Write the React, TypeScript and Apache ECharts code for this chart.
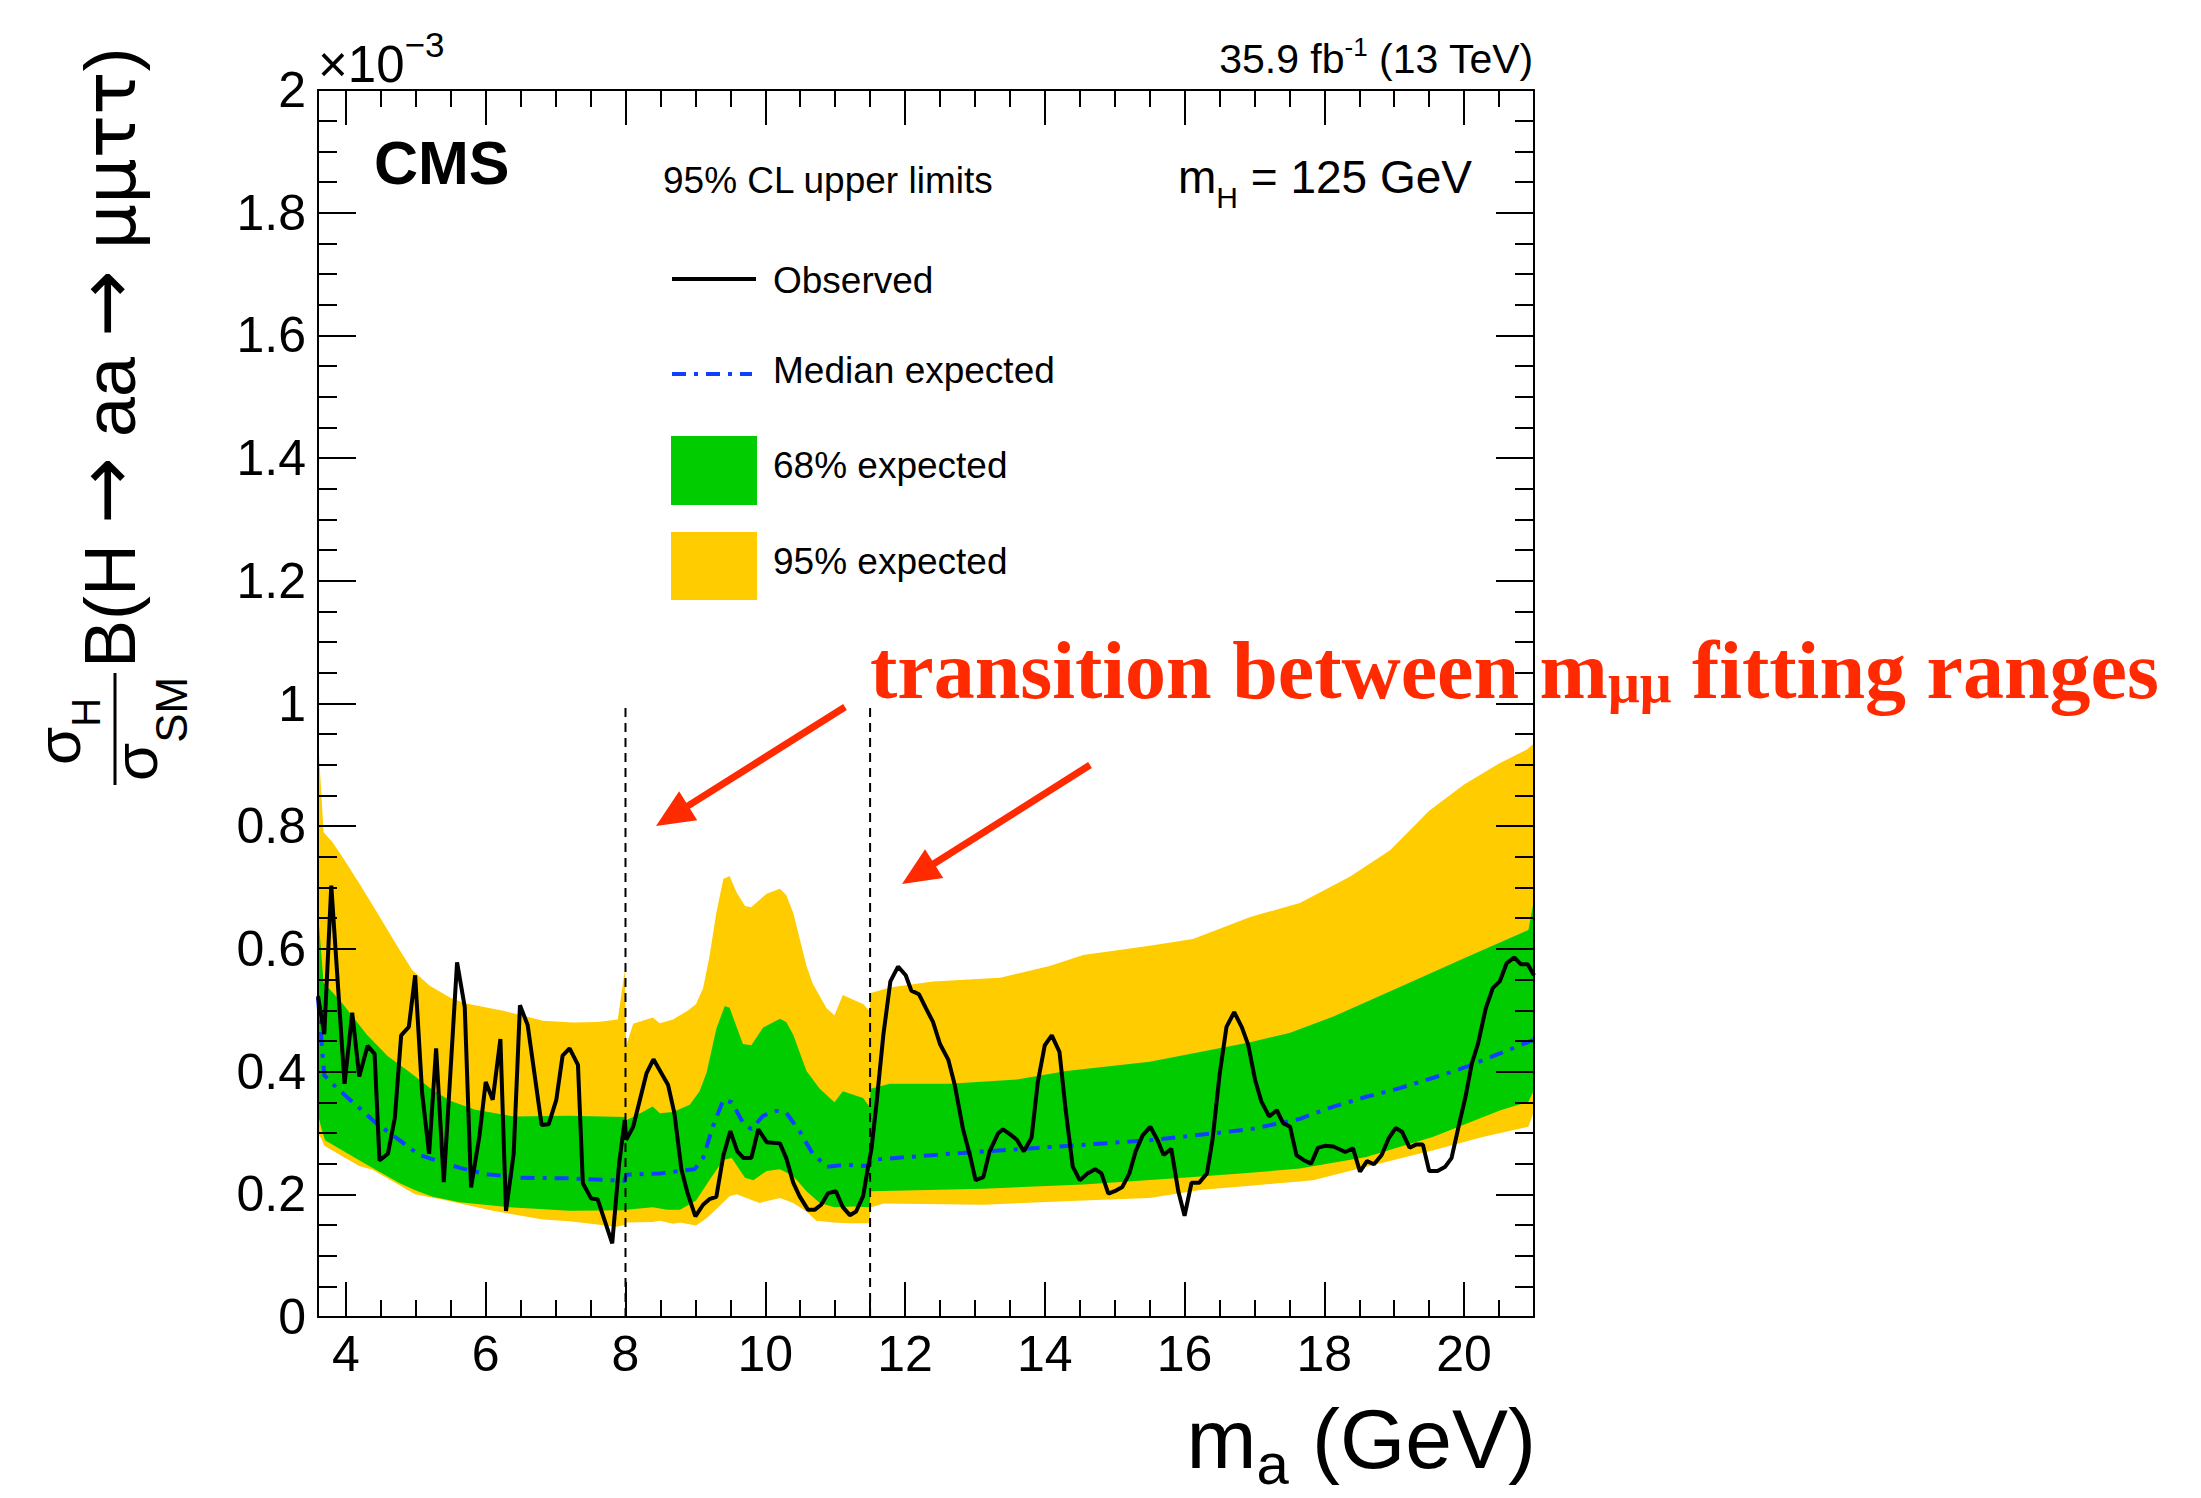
import React, { useEffect, useRef } from 'react';
import * as echarts from 'echarts';

const WIDTH = 2201;
const HEIGHT = 1498;

const SANS = 'Liberation Sans';
const SERIF = 'Liberation Serif';
const SYMBOLS = 'DejaVu Sans';
// distance of the central baseline above the alphabetic one, in em
const CENTRAL: Record<string, number> = { 'Liberation Sans': 0.3465, 'Liberation Serif': 0.3375, 'DejaVu Sans': 0.346 };

const COLOR_95 = '#ffcc00';
const COLOR_68 = '#00cc00';
const COLOR_MEDIAN = '#1040ff';
const COLOR_NOTE = '#ff2a00';

// axis ranges
const massMin = 3.6;
const massMax = 21;
const limitMin = 0;
const limitMax = 2;
const limitStep = 0.2;

// boundaries between the m_mumu fit ranges, and how high their markers reach
const rangeEdges = [8, 11.5];
const rangeEdgeTop = 1.0;

// 95% CL upper limits (x 10^-3) versus m_a (GeV)
const observed: [number, number][] = [
  [3.6, 0.523], [3.69, 0.461], [3.79, 0.703], [3.98, 0.38], [4.09, 0.496], [4.19, 0.392],
  [4.31, 0.442], [4.41, 0.429], [4.48, 0.255], [4.6, 0.266], [4.7, 0.325], [4.79, 0.459],
  [4.9, 0.473], [4.99, 0.557], [5.09, 0.365], [5.19, 0.266], [5.29, 0.438], [5.4, 0.22],
  [5.59, 0.578], [5.7, 0.505], [5.79, 0.211], [5.91, 0.295], [6.0, 0.383], [6.1, 0.354],
  [6.21, 0.453], [6.29, 0.173], [6.4, 0.266], [6.49, 0.508], [6.6, 0.476], [6.8, 0.313],
  [6.9, 0.314], [7.01, 0.354], [7.1, 0.426], [7.2, 0.438], [7.32, 0.411], [7.39, 0.218],
  [7.51, 0.193], [7.6, 0.192], [7.7, 0.158], [7.81, 0.12], [7.91, 0.251], [7.99, 0.321],
  [8.01, 0.289], [8.11, 0.31], [8.3, 0.397], [8.4, 0.42], [8.61, 0.378], [8.7, 0.332],
  [8.8, 0.241], [8.89, 0.201], [9.0, 0.164], [9.11, 0.183], [9.2, 0.192], [9.3, 0.196],
  [9.4, 0.263], [9.5, 0.303], [9.6, 0.27], [9.69, 0.259], [9.8, 0.259], [9.9, 0.306],
  [10.02, 0.285], [10.21, 0.283], [10.3, 0.259], [10.4, 0.219], [10.49, 0.197], [10.61, 0.175],
  [10.71, 0.175], [10.8, 0.183], [10.9, 0.202], [11.01, 0.205], [11.11, 0.179], [11.21, 0.166],
  [11.3, 0.172], [11.4, 0.197], [11.47, 0.244], [11.52, 0.274], [11.59, 0.346], [11.69, 0.46],
  [11.79, 0.547], [11.9, 0.571], [12.01, 0.557], [12.09, 0.532], [12.2, 0.526], [12.3, 0.503],
  [12.4, 0.481], [12.5, 0.445], [12.62, 0.419], [12.71, 0.379], [12.83, 0.306], [12.93, 0.263],
  [13.01, 0.223], [13.12, 0.228], [13.21, 0.27], [13.33, 0.299], [13.4, 0.306], [13.5, 0.298],
  [13.6, 0.289], [13.7, 0.27], [13.81, 0.292], [13.9, 0.383], [14.0, 0.443], [14.1, 0.459],
  [14.21, 0.432], [14.3, 0.336], [14.4, 0.245], [14.5, 0.223], [14.61, 0.234], [14.72, 0.241],
  [14.81, 0.234], [14.91, 0.201], [15.0, 0.205], [15.11, 0.212], [15.21, 0.234], [15.3, 0.27],
  [15.4, 0.296], [15.51, 0.31], [15.61, 0.289], [15.7, 0.264], [15.81, 0.274], [15.91, 0.205],
  [16.0, 0.165], [16.1, 0.219], [16.21, 0.219], [16.32, 0.234], [16.4, 0.289], [16.5, 0.394],
  [16.6, 0.473], [16.71, 0.497], [16.82, 0.472], [16.91, 0.444], [17.01, 0.386], [17.1, 0.351],
  [17.21, 0.327], [17.32, 0.337], [17.41, 0.316], [17.51, 0.31], [17.6, 0.264], [17.7, 0.256],
  [17.81, 0.25], [17.91, 0.276], [18.01, 0.279], [18.13, 0.278], [18.3, 0.269], [18.41, 0.275],
  [18.51, 0.237], [18.61, 0.254], [18.71, 0.249], [18.82, 0.264], [18.92, 0.291], [19.02, 0.308],
  [19.11, 0.302], [19.22, 0.276], [19.31, 0.281], [19.41, 0.281], [19.5, 0.238], [19.62, 0.238],
  [19.73, 0.245], [19.82, 0.259], [19.92, 0.31], [20.02, 0.359], [20.11, 0.413], [20.2, 0.446],
  [20.31, 0.503], [20.41, 0.536], [20.51, 0.547], [20.61, 0.577], [20.72, 0.586], [20.81, 0.575],
  [20.91, 0.575], [21.0, 0.557],
];

const medianExpected: [number, number][] = [
  [3.6, 0.52], [3.69, 0.394], [3.8, 0.381], [4.0, 0.36], [4.2, 0.34], [4.43, 0.316],
  [4.77, 0.288], [5.05, 0.264], [5.3, 0.255], [5.63, 0.243], [6.0, 0.233], [6.5, 0.227],
  [7.2, 0.226], [7.99, 0.222], [8.01, 0.232], [8.49, 0.234], [8.99, 0.241], [9.11, 0.259],
  [9.25, 0.31], [9.4, 0.354], [9.52, 0.35], [9.68, 0.317], [9.8, 0.306], [9.97, 0.328],
  [10.16, 0.336], [10.3, 0.333], [10.49, 0.303], [10.68, 0.266], [10.88, 0.245], [11.16, 0.248],
  [11.49, 0.246], [11.51, 0.256], [12.64, 0.266], [14.07, 0.277], [15.5, 0.288], [16.22, 0.297],
  [16.94, 0.306], [17.65, 0.323], [18.13, 0.343], [18.6, 0.359], [19.08, 0.373], [19.56, 0.39],
  [20.04, 0.408], [20.52, 0.43], [21.0, 0.452],
];

const band68Upper: [number, number][] = [
  [3.6, 0.66], [3.68, 0.545], [3.8, 0.53], [3.95, 0.511], [4.3, 0.46], [4.6, 0.425],
  [4.9, 0.4], [5.24, 0.37], [5.5, 0.352], [5.85, 0.338], [6.4, 0.327], [7.2, 0.328],
  [7.99, 0.326], [8.01, 0.321], [8.11, 0.326], [8.39, 0.343], [8.49, 0.332], [8.68, 0.334],
  [8.92, 0.346], [9.06, 0.368], [9.16, 0.398], [9.3, 0.47], [9.42, 0.507], [9.49, 0.504],
  [9.68, 0.445], [9.8, 0.443], [9.97, 0.472], [10.21, 0.486], [10.3, 0.481], [10.4, 0.46],
  [10.59, 0.401], [10.78, 0.372], [10.99, 0.35], [11.11, 0.368], [11.4, 0.357], [11.49, 0.343],
  [11.51, 0.372], [11.78, 0.38], [12.64, 0.38], [13.6, 0.387], [14.31, 0.401], [15.5, 0.416],
  [16.22, 0.432], [16.94, 0.448], [17.5, 0.463], [18.13, 0.49], [19.08, 0.538], [20.04, 0.587],
  [20.92, 0.631], [21.0, 0.68],
];

const band68Lower: [number, number][] = [
  [3.6, 0.33], [3.65, 0.307], [3.7, 0.288], [4.0, 0.268], [4.3, 0.248], [4.77, 0.218],
  [5.0, 0.206], [5.24, 0.196], [5.63, 0.187], [6.34, 0.179], [7.2, 0.173], [7.99, 0.174],
  [8.01, 0.175], [8.39, 0.179], [8.6, 0.175], [8.78, 0.175], [9.01, 0.19], [9.2, 0.223],
  [9.4, 0.256], [9.52, 0.259], [9.71, 0.227], [9.83, 0.223], [10.02, 0.238], [10.21, 0.241],
  [10.4, 0.23], [10.59, 0.205], [10.78, 0.186], [10.99, 0.179], [11.26, 0.18], [11.49, 0.179],
  [11.51, 0.205], [13.12, 0.209], [14.55, 0.216], [15.98, 0.227], [16.94, 0.235], [17.65, 0.242],
  [18.6, 0.261], [19.56, 0.294], [20.52, 0.337], [20.92, 0.351], [21.0, 0.37],
];

const band95Upper: [number, number][] = [
  [3.6, 0.945], [3.68, 0.79], [3.8, 0.775], [3.95, 0.75], [4.2, 0.705], [4.43, 0.662],
  [4.6, 0.63], [4.77, 0.598], [4.95, 0.565], [5.2, 0.54], [5.5, 0.52], [5.72, 0.511],
  [6.25, 0.499], [6.82, 0.483], [7.25, 0.48], [7.6, 0.481], [7.89, 0.485], [7.99, 0.565],
  [8.01, 0.442], [8.11, 0.478], [8.39, 0.488], [8.49, 0.479], [8.68, 0.485], [8.9, 0.5],
  [9.01, 0.51], [9.11, 0.536], [9.2, 0.587], [9.3, 0.659], [9.4, 0.714], [9.49, 0.719],
  [9.59, 0.692], [9.71, 0.67], [9.8, 0.668], [9.9, 0.678], [10.02, 0.69], [10.21, 0.698],
  [10.3, 0.688], [10.4, 0.659], [10.59, 0.572], [10.68, 0.543], [10.88, 0.503], [10.99, 0.492],
  [11.11, 0.525], [11.26, 0.517], [11.4, 0.51], [11.49, 0.499], [11.51, 0.528], [11.78, 0.537],
  [12.4, 0.547], [13.36, 0.553], [14.07, 0.572], [14.55, 0.59], [15.5, 0.605], [16.12, 0.616],
  [16.94, 0.652], [17.65, 0.675], [18.37, 0.718], [18.94, 0.761], [19.5, 0.825], [20.0, 0.868],
  [20.5, 0.902], [20.9, 0.925], [21.0, 0.935],
];

const band95Lower: [number, number][] = [
  [3.6, 0.3], [3.65, 0.29], [3.69, 0.279], [4.19, 0.246], [4.38, 0.24], [4.99, 0.2],
  [5.39, 0.191], [6.1, 0.173], [6.82, 0.159], [7.2, 0.156], [7.87, 0.147], [7.99, 0.15],
  [8.01, 0.154], [8.39, 0.155], [8.49, 0.157], [8.68, 0.152], [8.78, 0.154], [9.01, 0.149],
  [9.16, 0.161], [9.3, 0.176], [9.49, 0.197], [9.59, 0.2], [9.73, 0.194], [9.92, 0.186],
  [10.21, 0.194], [10.4, 0.186], [10.59, 0.172], [10.73, 0.157], [10.97, 0.154], [11.2, 0.153],
  [11.49, 0.153], [11.51, 0.179], [11.7, 0.185], [13.12, 0.183], [14.55, 0.19], [15.5, 0.194],
  [16.22, 0.207], [16.94, 0.214], [17.84, 0.223], [18.6, 0.245], [19.56, 0.272], [20.28, 0.294],
  [20.92, 0.31], [21.0, 0.335],
];

const legendLabels = ['Observed', 'Median expected', '68% expected', '95% expected'];

type Piece = { text: string; size: number; rise?: number; weight?: string; family?: string };

const measureCtx = document.createElement('canvas').getContext('2d') as CanvasRenderingContext2D;
function textWidth(p: Piece): number {
  measureCtx.font = `${p.weight ?? 'normal'} ${p.size}px "${p.family ?? SANS}"`;
  return measureCtx.measureText(p.text).width;
}

// lays out a run of differently sized pieces on a common baseline
function textRun(pieces: Piece[], x: number, baseline: number, align: 'left' | 'right' | 'center', color: string) {
  const widths = pieces.map(textWidth);
  const total = widths.reduce((a, b) => a + b, 0);
  let cx = align === 'right' ? x - total : align === 'center' ? x - total / 2 : x;
  return pieces.map((p, i) => {
    const family = p.family ?? SANS;
    const el = {
      type: 'text',
      x: cx,
      y: baseline - (p.rise ?? 0) - CENTRAL[family] * p.size,
      silent: true,
      style: {
        text: p.text,
        fontSize: p.size,
        fontFamily: family,
        fontWeight: p.weight ?? 'normal',
        fill: color,
        align: 'left',
        verticalAlign: 'middle',
      },
    };
    cx += widths[i];
    return el;
  });
}

function arrow(tail: [number, number], tip: [number, number], color: string) {
  const dx = tip[0] - tail[0];
  const dy = tip[1] - tail[1];
  const len = Math.hypot(dx, dy);
  const ux = dx / len;
  const uy = dy / len;
  const headLen = 38;
  const halfW = 17;
  const bx = tip[0] - ux * headLen;
  const by = tip[1] - uy * headLen;
  return [
    {
      type: 'line',
      silent: true,
      shape: { x1: tail[0], y1: tail[1], x2: bx + ux * 4, y2: by + uy * 4 },
      style: { stroke: color, lineWidth: 7 },
    },
    {
      type: 'polygon',
      silent: true,
      shape: {
        points: [
          [tip[0], tip[1]],
          [bx - uy * halfW, by + ux * halfW],
          [bx + uy * halfW, by - ux * halfW],
        ],
      },
      style: { fill: color },
    },
  ];
}

function bandSeries(name: string, upper: [number, number][], lower: [number, number][], color: string, z: number) {
  const outline = [...upper, ...lower.slice().reverse()];
  return {
    type: 'custom',
    name,
    coordinateSystem: 'cartesian2d',
    xAxisIndex: 0,
    yAxisIndex: 0,
    data: outline,
    encode: { x: 0, y: 1 },
    silent: true,
    z,
    renderItem: (params: any, api: any) => {
      if (params.dataIndex !== 0) return null;
      return {
        type: 'polygon',
        shape: { points: outline.map((p) => api.coord(p)) },
        style: { fill: color, stroke: null },
      };
    },
  };
}

const frameStyle = { color: '#000', width: 2 };

function massAxis(position: 'bottom' | 'top', labels: boolean) {
  return {
    type: 'value',
    position,
    min: massMin,
    max: massMax,
    splitNumber: 9,
    z: 10,
    axisLine: { show: true, onZero: false, lineStyle: frameStyle },
    axisTick: { show: true, inside: true, length: 35, lineStyle: frameStyle },
    minorTick: { show: true, splitNumber: 4, length: 17, lineStyle: frameStyle },
    splitLine: { show: false },
    minorSplitLine: { show: false },
    axisLabel: {
      show: labels,
      fontSize: 50,
      fontFamily: SANS,
      color: '#000',
      margin: 12,
      showMinLabel: false,
      showMaxLabel: false,
    },
  };
}

function limitAxis(position: 'left' | 'right', labels: boolean) {
  return {
    type: 'value',
    position,
    min: limitMin,
    max: limitMax,
    interval: limitStep,
    z: 10,
    axisLine: { show: true, onZero: false, lineStyle: frameStyle },
    axisTick: { show: true, inside: true, length: 38, lineStyle: frameStyle },
    minorTick: { show: true, splitNumber: 4, length: 19, lineStyle: frameStyle },
    splitLine: { show: false },
    minorSplitLine: { show: false },
    axisLabel: { show: labels, fontSize: 50, fontFamily: SANS, color: '#000', margin: 12 },
  };
}

function buildOption() {
  const legendY = [279, 374, 470, 566];
  const legendBaselines = [293, 383, 478, 574];

  const legend = [
    { type: 'line', silent: true, shape: { x1: 672, y1: legendY[0], x2: 756, y2: legendY[0] }, style: { stroke: '#000', lineWidth: 4 } },
    {
      type: 'line',
      silent: true,
      shape: { x1: 672, y1: legendY[1], x2: 752, y2: legendY[1] },
      style: { stroke: COLOR_MEDIAN, lineWidth: 4, lineDash: [14, 8, 4, 8] },
    },
    { type: 'rect', silent: true, shape: { x: 671, y: 436, width: 86, height: 69 }, style: { fill: COLOR_68 } },
    { type: 'rect', silent: true, shape: { x: 671, y: 532, width: 86, height: 68 }, style: { fill: COLOR_95 } },
    ...legendLabels.flatMap((label, i) => textRun([{ text: label, size: 37 }], 773, legendBaselines[i], 'left', '#000')),
  ];

  // y-axis title, written bottom-to-top: group-local x runs up the page, local y runs right
  const yTitle = {
    type: 'group',
    x: 135,
    y: 785,
    rotation: Math.PI / 2,
    silent: true,
    children: [
      ...textRun([{ text: 'σ', size: 62 }, { text: 'H', size: 40, rise: -20 }], 20, -55, 'left', '#000'),
      { type: 'rect', silent: true, shape: { x: 0, y: -21.5, width: 112, height: 3 }, style: { fill: '#000' } },
      ...textRun([{ text: 'σ', size: 62 }, { text: 'SM', size: 44, rise: -30 }], 4, 22, 'left', '#000'),
      ...textRun(
        [
          { text: 'B(H ', size: 72 },
          { text: '→', size: 80, family: SYMBOLS, rise: 2 },
          { text: ' aa ', size: 72 },
          { text: '→', size: 80, family: SYMBOLS, rise: 2 },
          { text: ' ', size: 72 },
          { text: 'μμττ', size: 72, family: SYMBOLS },
          { text: ')', size: 72 },
        ],
        117,
        0,
        'left',
        '#000',
      ),
    ],
  };

  const graphics = [
    ...textRun([{ text: '×10', size: 51 }, { text: '−3', size: 35, rise: 25 }], 318, 82, 'left', '#000'),
    ...textRun([{ text: 'CMS', size: 61, weight: 'bold' }], 374, 184, 'left', '#000'),
    ...textRun([{ text: '95% CL upper limits', size: 37 }], 663, 193, 'left', '#000'),
    ...textRun([{ text: 'm', size: 46 }, { text: 'H', size: 30, rise: -15 }, { text: ' = 125 GeV', size: 46 }], 1178, 193, 'left', '#000'),
    ...textRun([{ text: '35.9 fb', size: 41 }, { text: '-1', size: 26, rise: 17 }, { text: ' (13 TeV)', size: 41 }], 1534, 73, 'right', '#000'),
    ...textRun([{ text: 'm', size: 84 }, { text: 'a', size: 58, rise: -16 }, { text: ' (GeV)', size: 84 }], 1536, 1468, 'right', '#000'),
    ...legend,
    yTitle,
    ...textRun(
      [
        { text: 'transition between m', size: 82, weight: 'bold', family: SERIF },
        { text: 'μμ', size: 56, rise: -4, weight: 'bold', family: SERIF },
        { text: ' fitting ranges', size: 82, weight: 'bold', family: SERIF },
      ],
      870,
      698,
      'left',
      COLOR_NOTE,
    ),
    ...arrow([845, 707], [656, 826], COLOR_NOTE),
    ...arrow([1090, 765], [902, 884], COLOR_NOTE),
  ].map((g: any) => ({ ...g, z: 100 }));

  return {
    animation: false,
    backgroundColor: '#ffffff',
    grid: { left: 318, right: WIDTH - 1534, top: 90, bottom: HEIGHT - 1317, containLabel: false, outerBoundsMode: 'none' },
    xAxis: [massAxis('bottom', true), massAxis('top', false)],
    yAxis: [limitAxis('left', true), limitAxis('right', false)],
    series: [
      bandSeries('95% expected', band95Upper, band95Lower, COLOR_95, 1),
      bandSeries('68% expected', band68Upper, band68Lower, COLOR_68, 2),
      {
        type: 'line',
        name: 'Median expected',
        data: medianExpected,
        symbol: 'none',
        silent: true,
        z: 3,
        lineStyle: { color: COLOR_MEDIAN, width: 4, type: [14, 8, 4, 8] },
      },
      ...rangeEdges.map((m) => ({
        type: 'line',
        data: [
          [m, limitMin],
          [m, rangeEdgeTop],
        ],
        symbol: 'none',
        silent: true,
        z: 4,
        lineStyle: { color: '#000', width: 2, type: [9, 6] },
      })),
      {
        type: 'line',
        name: 'Observed',
        data: observed,
        symbol: 'none',
        silent: true,
        z: 5,
        lineStyle: { color: '#000', width: 4 },
      },
    ],
    graphic: { elements: graphics },
  };
}

export default function App() {
  const ref = useRef<HTMLDivElement>(null);
  useEffect(() => {
    document.body.style.margin = '0';
    const chart = echarts.init(ref.current as HTMLDivElement, null, { renderer: 'svg' });
    chart.setOption(buildOption() as any);
    return () => chart.dispose();
  }, []);
  return <div ref={ref} style={{ width: WIDTH, height: HEIGHT }} />;
}
